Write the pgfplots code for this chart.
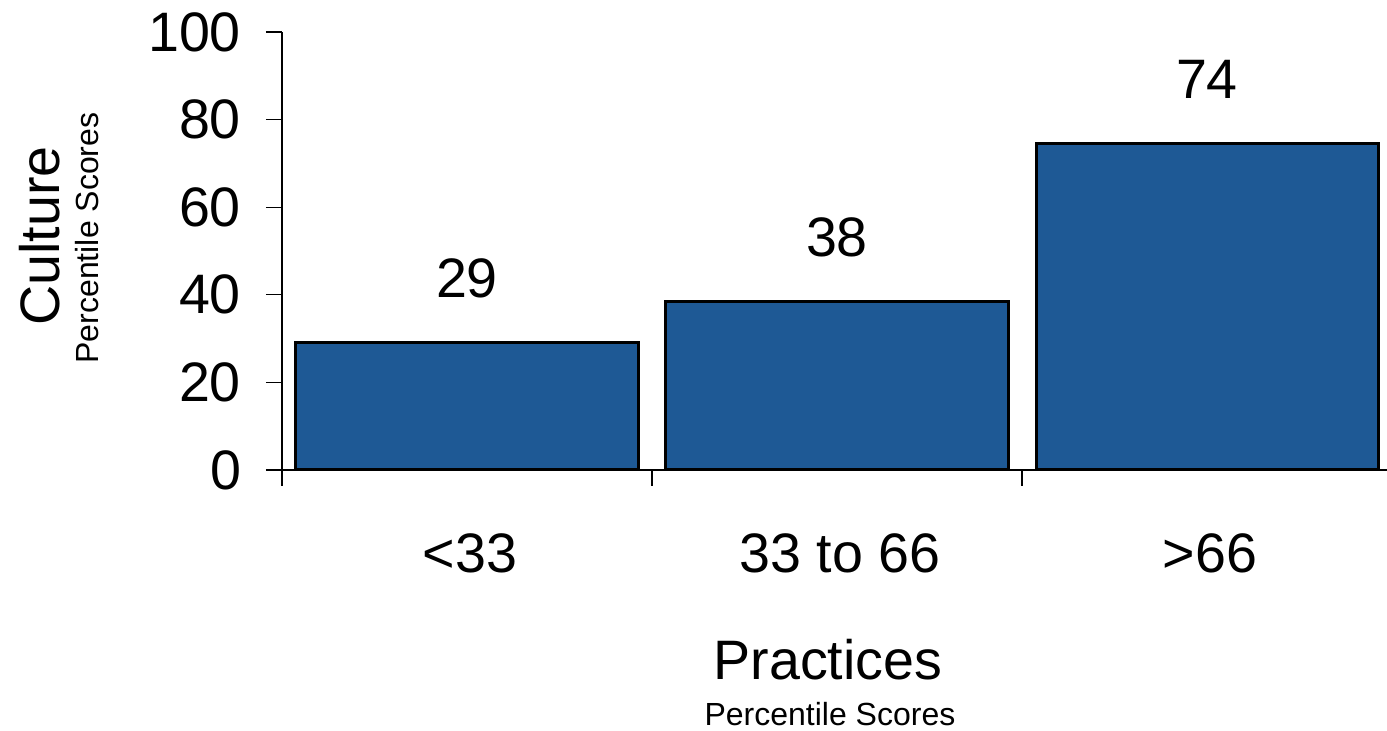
\documentclass[border=0pt]{standalone}
\usepackage{pgfplots}
\pgfplotsset{compat=1.18}
\usepackage{fontspec}
\setmainfont{Liberation Sans}
\definecolor{barblue}{RGB}{30,89,149}
\begin{document}
\begin{tikzpicture}
\useasboundingbox (-141pt,-130.5pt) rectangle (552.5pt,235pt);
\begin{axis}[
  at={(0,0)}, anchor=south west,
  scale only axis=true,
  width=555pt, height=219pt,
  xmin=0, xmax=3, ymin=0, ymax=100,
  axis x line=bottom, axis y line=left,
  axis line style={-, black, line width=0.6pt},
  xtick={0,1,2,3},
  xticklabels={{<33},{33 to 66},{>66}},
  x tick label as interval,
  ytick={0,20,40,60,80,100},
  tick style={black, line width=0.6pt},
  tick align=outside,
  major tick length=8pt,
  /pgf/number format/assume math mode=true,
  tick label style={font=\fontsize{27.8}{30}\selectfont},
  xticklabel style={yshift=-20.5pt, xshift=1.5pt},
  yticklabel style={xshift=-9pt, yshift=0pt},
  ybar, bar width=171pt,
  nodes near coords,
  point meta=explicit symbolic,
  nodes near coords style={font=\fontsize{27.8}{30}\selectfont, anchor=center, yshift=32pt, black},
  clip=false,
]
\addplot[fill=barblue, draw=black, line width=1.5pt] coordinates {(0.5,29.1)[29] (1.5,38.5)[38] (2.5,74.6)[74]};
\end{axis}
\node[font=\fontsize{27.8}{30}\selectfont, rotate=90] at (-121pt,117pt) {Culture};
\node[font=\fontsize{16}{18}\selectfont, rotate=90] at (-97.5pt,116pt) {Percentile Scores};
\node[font=\fontsize{27.8}{30}\selectfont] at (273pt,-95pt) {Practices};
\node[font=\fontsize{16}{18}\selectfont] at (274pt,-122pt) {Percentile Scores};
\end{tikzpicture}
\end{document}
